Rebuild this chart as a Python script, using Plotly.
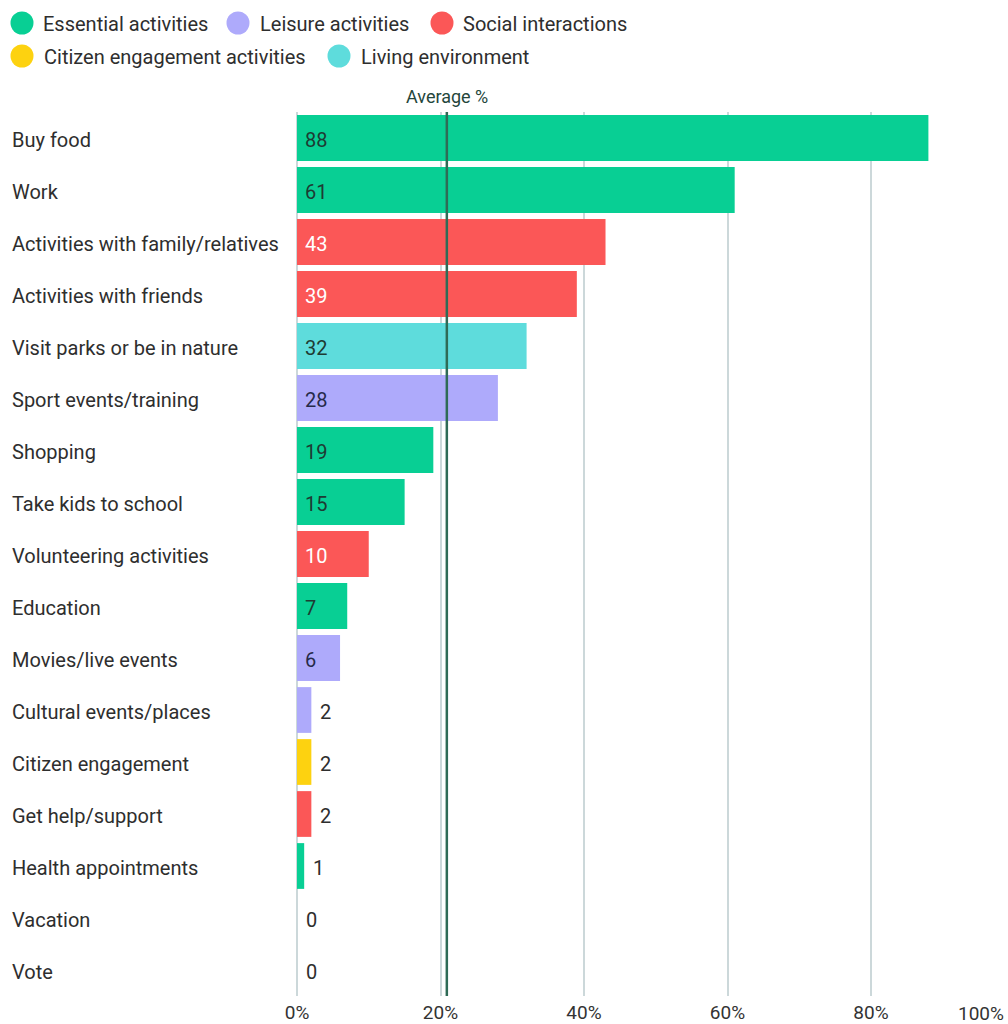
import plotly.graph_objects as go

categories = ["Buy food", "Work", "Activities with family/relatives", "Activities with friends",
              "Visit parks or be in nature", "Sport events/training", "Shopping", "Take kids to school",
              "Volunteering activities", "Education", "Movies/live events", "Cultural events/places",
              "Citizen engagement", "Get help/support", "Health appointments", "Vacation", "Vote"]
values = [88, 61, 43, 39, 32, 28, 19, 15, 10, 7, 6, 2, 2, 2, 1, 0, 0]
groups = ["Essential activities", "Essential activities", "Social interactions", "Social interactions",
          "Living environment", "Leisure activities", "Essential activities", "Essential activities",
          "Social interactions", "Essential activities", "Leisure activities", "Leisure activities",
          "Citizen engagement activities", "Social interactions", "Essential activities",
          "Essential activities", "Essential activities"]
legend_rows = [["Essential activities", "Leisure activities", "Social interactions"],
               ["Citizen engagement activities", "Living environment"]]
tick_vals = [0, 20, 40, 60, 80]
tick_text = ["0%", "20%", "40%", "60%", "80%"]
last_tick = "100%"

colors = {
    "Essential activities": "#08cf94",
    "Leisure activities": "#aeaafb",
    "Social interactions": "#fb5757",
    "Citizen engagement activities": "#fdd210",
    "Living environment": "#5edcdc",
}
text_colors = {
    "Essential activities": "#1e3b33",
    "Leisure activities": "#262a4a",
    "Social interactions": "#ffffff",
    "Citizen engagement activities": "#1e3b33",
    "Living environment": "#1e3b33",
}

FONT = "Roboto"
FS = 20
avg = sum(values) / len(values)

fig = go.Figure()
fig.add_trace(go.Bar(
    y=categories, x=values, orientation="h",
    marker=dict(color=[colors[g] for g in groups], line=dict(width=0)),
    width=0.88, showlegend=False, hoverinfo="x+y",
))

annotations = []
L, W = 297, 711
for c in categories:
    annotations.append(dict(x=(10 - L) / W, xref="paper", y=c, yref="y", text=c,
                            xanchor="left", yanchor="middle", showarrow=False, yshift=-2,
                            font=dict(family=FONT, size=FS, color="#2e2e2e")))
for c, v, g in zip(categories, values, groups):
    if v >= 5:
        annotations.append(dict(x=0, y=c, text=str(v), xanchor="left", yanchor="middle",
                                showarrow=False, xshift=6, yshift=-2,
                                font=dict(family=FONT, size=FS, color=text_colors[g])))
    else:
        annotations.append(dict(x=v, y=c, text=str(v), xanchor="left", yanchor="middle",
                                showarrow=False, xshift=7, yshift=-2,
                                font=dict(family=FONT, size=FS, color="#2e2e2e")))
annotations.append(dict(x=avg, y=1, yref="paper", text="Average %", xanchor="center",
                        yanchor="bottom", showarrow=False, yshift=3,
                        font=dict(family=FONT, size=18, color="#24463b")))
annotations.append(dict(x=1, xref="paper", y=0, yref="paper", text=last_tick, xanchor="right",
                        yanchor="top", showarrow=False, yshift=-4, xshift=-2,
                        font=dict(family=FONT, size=19, color="#333333")))

shapes = [dict(type="line", x0=avg, x1=avg, y0=0, y1=1, yref="paper", xref="x",
               line=dict(color="#2f6b56", width=2.5), layer="above")]

legend_pos = [[(22, 41), (238, 258), (442, 461)], [(22, 42), (339, 359)]]
row_y = [23, 56]
H = 1024
T, B = 112, 28
PH = H - T - B
for r, row in enumerate(legend_rows):
    for name, (cx, tx) in zip(row, legend_pos[r]):
        yp = 1 + (T - row_y[r]) / PH
        shapes.append(dict(type="circle", xref="paper", yref="paper",
                           xsizemode="pixel", ysizemode="pixel",
                           xanchor=(cx - L) / W, yanchor=yp,
                           x0=-11.5, x1=11.5, y0=-11.5, y1=11.5,
                           fillcolor=colors[name], line=dict(width=0)))
        annotations.append(dict(x=(tx - L) / W, xref="paper", y=yp, yref="paper", text=name,
                                xanchor="left", yanchor="middle", showarrow=False, yshift=-1,
                                font=dict(family=FONT, size=FS, color="#2e2e2e")))

fig.update_layout(
    width=1008, height=1024,
    margin=dict(l=L, r=0, t=T, b=B, autoexpand=False),
    plot_bgcolor="white", paper_bgcolor="white",
    bargap=0.12,
    xaxis=dict(range=[0, W / 7.175], tickvals=tick_vals, ticktext=tick_text,
               showgrid=True, gridcolor="#ccd8da", gridwidth=1.5,
               zeroline=True, zerolinecolor="#ccd8da", zerolinewidth=1.5,
               showline=False, ticks="", ticklabelstandoff=3, automargin=False,
               tickfont=dict(family=FONT, size=19, color="#333333"), fixedrange=True),
    yaxis=dict(autorange=False, range=[16.5, -0.5], showticklabels=False, showgrid=False,
               zeroline=False, showline=False, ticks="", fixedrange=True, automargin=False),
    annotations=annotations, shapes=shapes,
    font=dict(family=FONT),
)

fig.write_html("out.html")
